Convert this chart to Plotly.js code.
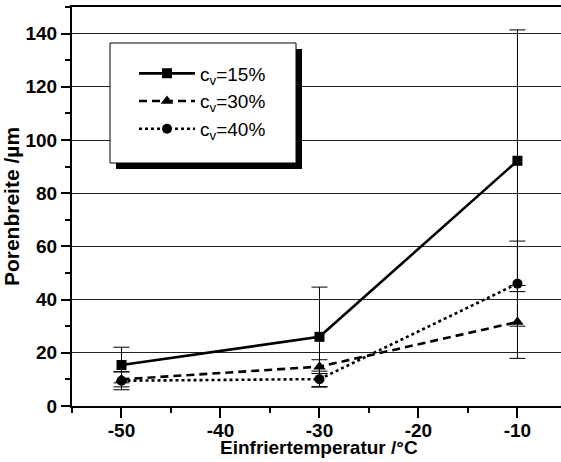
<!DOCTYPE html>
<html>
<head>
<meta charset="utf-8">
<script src="https://cdn.plot.ly/plotly-3.0.1.min.js"></script>
<style>html,body{margin:0;padding:0;background:#fff;}</style>
</head>
<body>
<div id="chart" style="width:561px;height:462px;"></div>
<script>
// Data
const temps = [-50, -30, -10];
const cv15 = [15.4, 26.0, 92.2];
const cv15Err = [6.7, 18.7, 49.2];
const cv30 = [10.0, 14.8, 31.6];
const cv30Err = [2.8, 2.6, 13.7];
const cv40 = [9.5, 10.1, 46.0];
const cv40Err = [3.4, 3.0, 16.0];
const seriesNames = ['c<sub>v</sub>=15%', 'c<sub>v</sub>=30%', 'c<sub>v</sub>=40%'];
const xTickVals = [-50, -40, -30, -20, -10];
const xTickText = ['-50', '-40', '-30', '-20', '-10'];
const yTickVals = [0, 20, 40, 60, 80, 100, 120, 140];
const yTickText = ['0', '20', '40', '60', '80', '100', '120', '140'];
const xTitle = 'Einfriertemperatur /°C';
const yTitle = 'Porenbreite /µm';

const FONT = 'Liberation Sans, Arial, sans-serif';

function errBar(arr) {
  return {type: 'data', array: arr, visible: true, color: '#000', thickness: 1, width: 8};
}

const traces = [
  {x: temps, y: cv15, name: seriesNames[0], type: 'scatter', mode: 'lines+markers',
   line: {color: '#000', width: 2.6, dash: 'solid'},
   marker: {symbol: 'square', size: 10, color: '#000'},
   error_y: errBar(cv15Err)},
  {x: temps, y: cv30, name: seriesNames[1], type: 'scatter', mode: 'lines+markers',
   line: {color: '#000', width: 2.6, dash: '8px,5px'},
   marker: {symbol: 'triangle-up', size: 11, color: '#000'},
   error_y: errBar(cv30Err)},
  {x: temps, y: cv40, name: seriesNames[2], type: 'scatter', mode: 'lines+markers',
   line: {color: '#000', width: 2.6, dash: '3px,3px'},
   marker: {symbol: 'circle', size: 10, color: '#000'},
   error_y: errBar(cv40Err)}
];

// pixel -> paper helpers (plot area 72..561 x, 7..406 y)
const PX0 = 72, PX1 = 561, PY0 = 7, PY1 = 406;
const px = v => (v - PX0) / (PX1 - PX0);
const py = v => (PY1 - v) / (PY1 - PY0);

const layout = {
  width: 561, height: 462,
  margin: {l: 72, r: 0, t: 7, b: 56, pad: 0},
  paper_bgcolor: '#fff', plot_bgcolor: '#fff',
  font: {family: FONT, color: '#000'},
  showlegend: true,
  legend: {
    x: px(134), y: py(54.5), xanchor: 'left', yanchor: 'top',
    bgcolor: 'rgba(0,0,0,0)', borderwidth: 0,
    font: {family: FONT, size: 19, color: '#000'},
    itemwidth: 56, tracegroupgap: 0
  },
  xaxis: {
    range: [-55, -5.6], tickmode: 'array', tickvals: xTickVals, ticktext: xTickText,
    ticks: 'outside', ticklen: 10, tickwidth: 2, tickcolor: '#000',
    ticklabelstandoff: -4,
    showline: true, linewidth: 2, linecolor: '#000', mirror: true,
    showgrid: false, zeroline: false,
    tickfont: {family: FONT, size: 19, weight: 'bold', color: '#000'},
    minor: {ticks: 'outside', ticklen: 5, tickwidth: 2, tickcolor: '#000', dtick: 5, tick0: -50, showgrid: false}
  },
  xaxis2: {
    overlaying: 'x', anchor: 'y', side: 'bottom', matches: 'x', range: [-55, -5.6],
    tickmode: 'array', tickvals: xTickVals,
    ticks: 'inside', ticklen: 9, tickwidth: 2, tickcolor: '#000',
    showticklabels: false, showline: false, showgrid: false, zeroline: false,
    minor: {ticks: 'inside', ticklen: 7, tickwidth: 2, tickcolor: '#000', dtick: 5, tick0: -50, showgrid: false}
  },
  yaxis: {
    range: [0, 150], tickmode: 'array', tickvals: yTickVals, ticktext: yTickText,
    ticks: 'outside', ticklen: 9, tickwidth: 2, tickcolor: '#000',
    showline: true, linewidth: 2, linecolor: '#000',
    showgrid: true, gridcolor: '#222', gridwidth: 1, zeroline: false,
    tickfont: {family: FONT, size: 19, weight: 'bold', color: '#000'},
    minor: {ticks: 'outside', ticklen: 5, tickwidth: 2, tickcolor: '#000', dtick: 10, tick0: 0, showgrid: false},
    title: {text: yTitle, font: {family: FONT, size: 21, weight: 'bold', color: '#000'}, standoff: 8}
  },
  yaxis2: {
    overlaying: 'y', anchor: 'x', side: 'left', matches: 'y', range: [0, 150],
    tickmode: 'array', tickvals: yTickVals,
    ticks: 'inside', ticklen: 8, tickwidth: 2, tickcolor: '#000',
    showticklabels: false, showline: false, showgrid: false, zeroline: false,
    minor: {ticks: 'inside', ticklen: 3, tickwidth: 2, tickcolor: '#000', dtick: 10, tick0: 0, showgrid: false}
  },
  annotations: [
    {text: xTitle, xref: 'paper', yref: 'paper', x: px(319), y: py(447.5),
     xanchor: 'center', yanchor: 'middle', showarrow: false,
     font: {family: FONT, size: 19, weight: 'bold', color: '#000'}}
  ],
  shapes: [
    {type: 'rect', xref: 'paper', yref: 'paper', layer: 'above',
     x0: px(116), x1: px(302), y0: py(169), y1: py(49),
     fillcolor: '#000', line: {width: 0}},
    {type: 'rect', xref: 'paper', yref: 'paper', layer: 'above',
     x0: px(110), x1: px(296), y0: py(163), y1: py(43),
     fillcolor: '#fff', line: {color: '#000', width: 1}}
  ]
};

Plotly.newPlot('chart', traces, layout, {displayModeBar: false, staticPlot: true});
</script>
</body>
</html>
